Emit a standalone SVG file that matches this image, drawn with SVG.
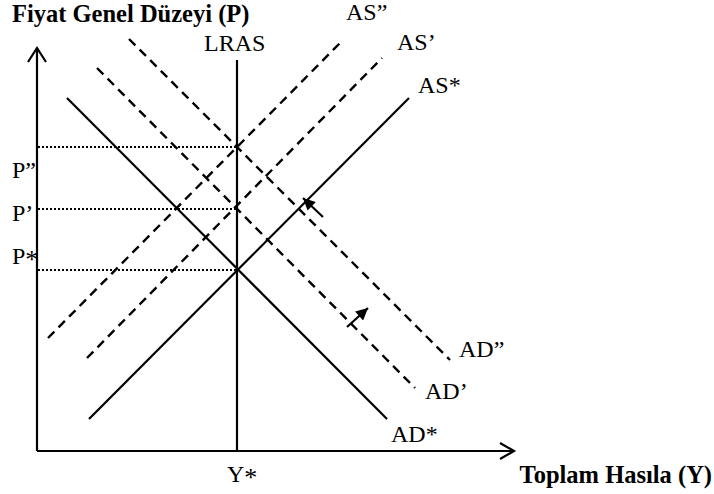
<svg xmlns="http://www.w3.org/2000/svg" width="714" height="494" viewBox="0 0 714 494">
<style>
.ln{stroke:#000;stroke-width:2.2;fill:none;stroke-linecap:butt}
.ds{stroke:#000;stroke-width:2.4;fill:none;stroke-dasharray:9,6}
.dt{stroke:#000;stroke-width:2;fill:none;stroke-dasharray:2,2}
.t{font-family:"Liberation Serif","Times New Roman",serif;font-size:24px;fill:#000}
.b{font-weight:bold;font-size:24.5px}
.st{font-size:26px}
</style>
<defs>
<marker id="ah2" viewBox="0 0 10 10" refX="10" refY="5" markerWidth="14" markerHeight="12" markerUnits="userSpaceOnUse" orient="auto">
<path d="M0,0 L10,5 L0,10 z" fill="#000"/>
</marker>
</defs>
<g id="axes">
<polyline class="ln" points="37,451 37,48"/>
<polyline class="ln" points="28,62 37,48 46,62"/>
<polyline class="ln" points="37,451 514,451"/>
<polyline class="ln" points="500,443 514,451 500,459"/>
</g>
<g id="connectors">
<line id="lras" class="ln" x1="237" y1="60" x2="237" y2="451"/>
<line id="ad-star" class="ln" x1="67" y1="98" x2="387" y2="419"/>
<line id="as-star" class="ln" x1="89" y1="419" x2="409" y2="98"/>
<line id="ad-2" class="ds" x1="129" y1="39" x2="450" y2="360"/>
<line id="ad-1" class="ds" x1="97" y1="68" x2="415" y2="388"/>
<line id="as-2" class="ds" x1="48" y1="338" x2="343" y2="40"/>
<line id="as-1" class="ds" x1="87" y1="358" x2="382" y2="58"/>
<line class="dt" x1="38" y1="147" x2="237" y2="147"/>
<line class="dt" x1="38" y1="209" x2="237" y2="209"/>
<line class="dt" x1="38" y1="270" x2="237" y2="270"/>
<line class="ln" x1="323" y1="217" x2="303" y2="198" marker-end="url(#ah2)"/>
<line class="ln" x1="347" y1="327" x2="368" y2="308" marker-end="url(#ah2)"/>
</g>
<g id="labels">
<text class="t b" x="12" y="22">Fiyat Genel Düzeyi (P)</text>
<text class="t b" x="712" y="483" text-anchor="end">Toplam Hasıla (Y)</text>
<text class="t" x="204" y="51">LRAS</text>
<text class="t" x="346" y="20">AS”</text>
<text class="t" x="397" y="50">AS’</text>
<text class="t" x="418" y="93">AS*</text>
<text class="t" x="12" y="178">P”</text>
<text class="t" x="12" y="221">P’</text>
<text class="t" x="12" y="264">P<tspan class="st" dy="4">*</tspan></text>
<text class="t" x="459" y="357">AD”</text>
<text class="t" x="425" y="399">AD’</text>
<text class="t" x="391" y="442">AD*</text>
<text class="t" x="227" y="482">Y<tspan class="st" dy="4">*</tspan></text>
</g>
</svg>
